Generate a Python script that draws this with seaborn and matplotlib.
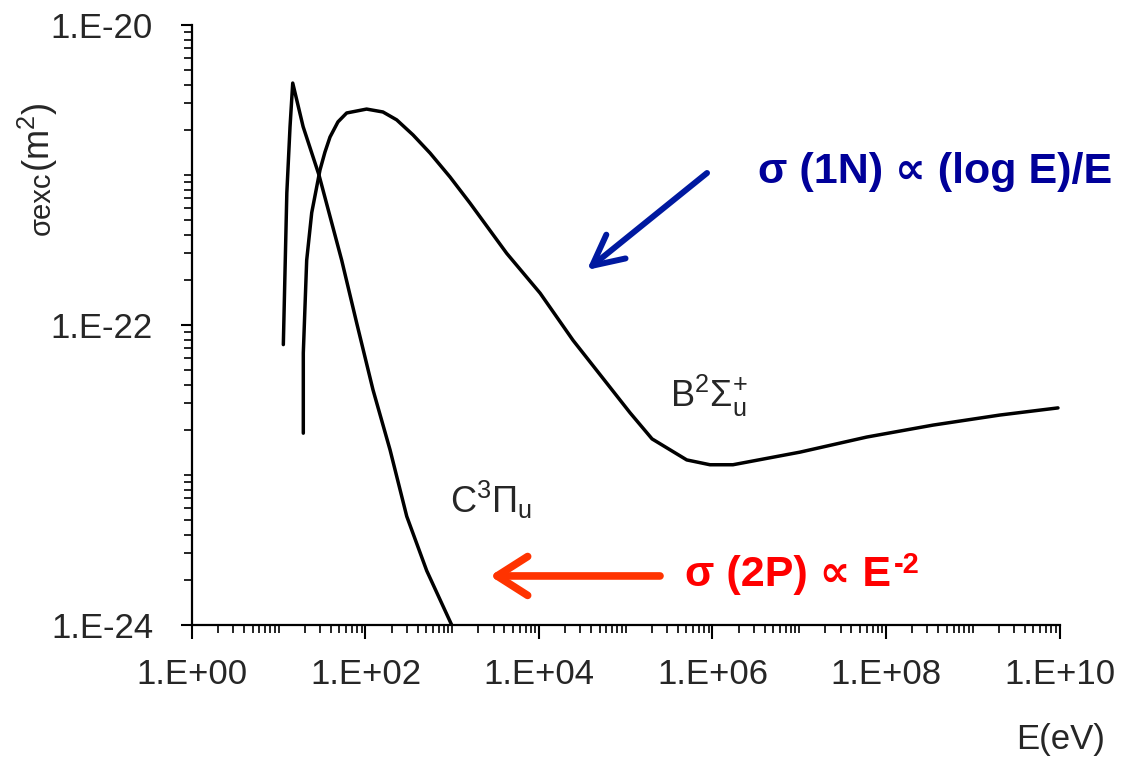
import numpy as np
import pandas as pd
import matplotlib
matplotlib.use("Agg")
import matplotlib.pyplot as plt
import matplotlib.ticker as mticker
import seaborn as sns

# C3Pi_u state (2P system)
c_energy = [11.3, 11.8, 12.4, 13.5, 14.5, 19.1, 29.1, 53.2, 79.2, 122, 192, 299, 508, 986]
c_sigma = [7.4e-23, 2.2e-22, 7.6e-22, 2.1e-21, 4.1e-21, 2.1e-21, 1.0e-21, 2.7e-22,
           1.03e-22, 3.7e-23, 1.47e-23, 5.3e-24, 2.3e-24, 1.0e-24]

# B2Sigma+_u state (1N system)
b_energy = [19.2, 19.2, 21.0, 24.0, 29.9, 34.1, 39.0, 48.2, 60.7, 103, 159, 229, 353, 555,
            942, 1600, 4250, 1.03e4, 2.47e4, 6.03e4, 1.12e5, 2.01e5, 5.05e5, 9.35e5, 1.72e6,
            1.02e7, 6.0e7, 3.48e8, 2.06e9, 9.6e9]
b_sigma = [1.9e-23, 6.5e-23, 2.7e-22, 5.6e-22, 1.08e-21, 1.42e-21, 1.79e-21, 2.26e-21, 2.59e-21,
           2.75e-21, 2.63e-21, 2.33e-21, 1.85e-21, 1.40e-21, 9.7e-22, 6.5e-22, 3.0e-22, 1.63e-22,
           7.9e-23, 4.1e-23, 2.6e-23, 1.74e-23, 1.26e-23, 1.17e-23, 1.17e-23, 1.42e-23, 1.79e-23,
           2.15e-23, 2.51e-23, 2.8e-23]

x_major = [1e0, 1e2, 1e4, 1e6, 1e8, 1e10]
x_labels = ["1.E+00", "1.E+02", "1.E+04", "1.E+06", "1.E+08", "1.E+10"]
y_major = [1e-24, 1e-22, 1e-20]
y_labels = ["1.E-24", "1.E-22", "1.E-20"]

sns.set_style("ticks")
plt.rcParams["font.family"] = ["Liberation Sans", "DejaVu Sans"]
plt.rcParams["mathtext.fontset"] = "custom"
plt.rcParams["mathtext.rm"] = "Liberation Sans"
plt.rcParams["mathtext.it"] = "Liberation Sans:italic"
plt.rcParams["mathtext.bf"] = "Liberation Sans:bold"

fig = plt.figure(figsize=(11.22, 7.66), dpi=100)
ax = fig.add_axes([0.1711, 0.1841, 0.7732, 0.7833])

df_c = pd.DataFrame({"E": c_energy, "sigma": c_sigma})
df_b = pd.DataFrame({"E": b_energy, "sigma": b_sigma})
sns.lineplot(data=df_c, x="E", y="sigma", sort=False, estimator=None, color="black", lw=2.5, ax=ax)
sns.lineplot(data=df_b, x="E", y="sigma", sort=False, estimator=None, color="black", lw=2.5, ax=ax)

ax.set_xscale("log")
ax.set_yscale("log")
ax.set_xlim(1, 1e10)
ax.set_ylim(1e-24, 1e-20)

ax.xaxis.set_major_locator(mticker.FixedLocator(x_major))
ax.xaxis.set_major_formatter(mticker.FixedFormatter(x_labels))
x_minor = [k * 10.0 ** n for n in range(0, 10) for k in range(1, 10) if k * 10.0 ** n not in x_major]
ax.xaxis.set_minor_locator(mticker.FixedLocator(x_minor))
ax.xaxis.set_minor_formatter(mticker.NullFormatter())

ax.yaxis.set_major_locator(mticker.FixedLocator(y_major))
ax.yaxis.set_major_formatter(mticker.FixedFormatter(y_labels))
y_minor = [k * 10.0 ** n for n in range(-24, -20) for k in range(1, 10) if k * 10.0 ** n not in y_major]
ax.yaxis.set_minor_locator(mticker.FixedLocator(y_minor))
ax.yaxis.set_minor_formatter(mticker.NullFormatter())

ax.tick_params(which="major", direction="out", length=10, width=1.5, labelsize=25, pad=14, color="black")
ax.tick_params(which="minor", direction="out", length=6, width=1.2, color="black")
ax.tick_params(axis="y", which="major", length=8, pad=20)

sns.despine(ax=ax)
for s in ["left", "bottom"]:
    ax.spines[s].set_linewidth(1.6)
    ax.spines[s].set_color("black")
ax.set_xlabel("")
ax.set_ylabel("")

# y label in two sizes, rotated
fig.text(0.0446, 0.7755, "\u03c3exc", fontsize=21, rotation=90, rotation_mode="anchor",
         ha="right", va="baseline")
fig.text(0.0446, 0.7755, "(m$^2$)", fontsize=26, rotation=90, rotation_mode="anchor",
         ha="left", va="baseline")
fig.text(1105 / 1122, 1 - 740 / 766, "E(eV)", fontsize=25, ha="right", va="center")

# curve labels
ax.text(0.2974, 0.187, r"C$^{3}\Pi_{\mathrm{u}}$", transform=ax.transAxes, fontsize=26,
        ha="left", va="baseline")
ax.text(0.551, 0.3633, r"B$^{2}\Sigma^{+}_{\mathrm{u}}$", transform=ax.transAxes, fontsize=26,
        ha="left", va="baseline")

# annotations
ax.text(0.6525, 0.755, "\u03c3 (1N) \u221d (log E)/E", transform=ax.transAxes, fontsize=31,
        fontweight="bold", color="#000099", ha="left", va="center", clip_on=False)
ax.annotate("", xy=(0.4553, 0.5917), xytext=(0.5937, 0.7533), xycoords="axes fraction",
            arrowprops=dict(arrowstyle="->,head_length=1.1,head_width=0.55", lw=4.3,
                            color="#0019a0", mutation_scale=20, shrinkA=0, shrinkB=0,
                            capstyle="round", joinstyle="round"))
red_txt = ax.text(0.5683, 0.0833, "\u03c3 (2P) \u221d E",
                  transform=ax.transAxes, fontsize=31, fontweight="bold", color="#ff0000",
                  ha="left", va="center", clip_on=False)
ax.annotate("-2", xy=(1.0, 1.1), xycoords=red_txt, xytext=(2, 0), textcoords="offset points",
            fontsize=21, fontweight="bold", color="#ff0000", ha="left", va="top")
ax.annotate("", xy=(0.3435, 0.0817), xytext=(0.5395, 0.0817), xycoords="axes fraction",
            arrowprops=dict(arrowstyle="->,head_length=1.1,head_width=0.7", lw=5.5,
                            color="#ff3300", mutation_scale=20, shrinkA=0, shrinkB=0,
                            capstyle="round", joinstyle="round"))

fig.savefig("out.png", dpi=100)
